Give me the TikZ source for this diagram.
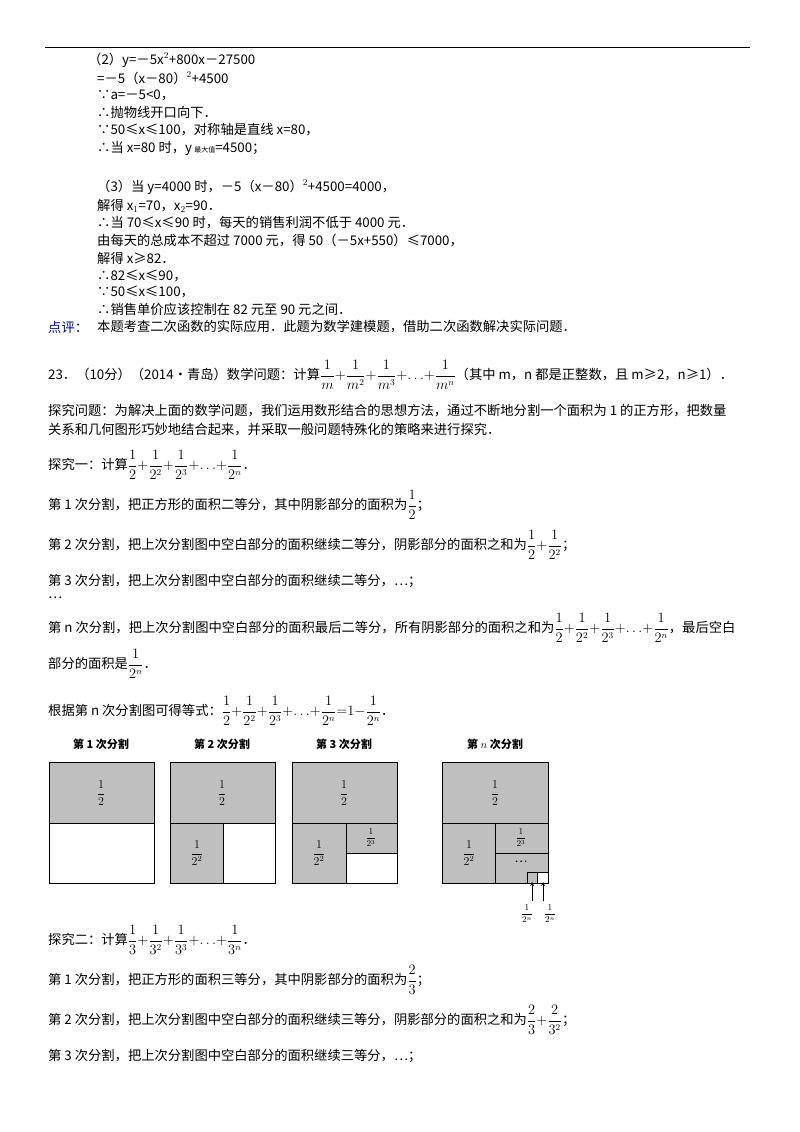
\documentclass[tikz,border=0pt]{standalone}
\usepackage{fontspec}
\setmainfont{Noto Sans CJK SC}
\usepackage{amsmath,amssymb}
\begin{document}
\begin{tikzpicture}[x=1pt,y=-1pt,
 t/.style={anchor=west,inner sep=0pt,font=\fontsize{13.3}{15}\selectfont},
 lab/.style={inner sep=0pt,font=\fontsize{11}{13}\selectfont\bfseries},
 sh/.style={fill=black!25,draw=black,line width=1pt},
 wh/.style={fill=white,draw=black,line width=1pt},
 fr/.style={inner sep=0pt,font=\fontsize{12}{13}\selectfont},
 sfr/.style={inner sep=0pt,font=\fontsize{9}{10}\selectfont}]
\useasboundingbox (0,0) rectangle (800,1132);
\draw[line width=0.6pt] (45,47) -- (750,47);
\node[t] (l1) at (88,60) {（2）y=－5x$^2$+800x－27500};
\node[t] (l2) at (97,78) {=－5（x－80）$^2$+4500};
\node[t] (l3) at (97,95) {∵a=－5<0，};
\node[t] (l4) at (97,112) {∴抛物线开口向下．};
\node[t] (l5) at (97,130) {∵50≤x≤100，对称轴是直线 x=80，};
\node[t] (l6) at (97,148) {∴当 x=80 时，y\,{\fontsize{7}{8}\selectfont 最大值}=4500；};
\node[t] (l7) at (97,187) {（3）当 y=4000 时，－5（x－80）$^2$+4500=4000，};
\node[t] (l8) at (97,206) {解得 x$_1$=70，x$_2$=90．};
\node[t] (l9) at (97,223) {∴当 70≤x≤90 时，每天的销售利润不低于 4000 元．};
\node[t] (l10) at (97,241) {由每天的总成本不超过 7000 元，得 50（－5x+550）≤7000，};
\node[t] (l11) at (97,258) {解得 x≥82．};
\node[t] (l12) at (97,276) {∴82≤x≤90，};
\node[t] (l13) at (97,292) {∵50≤x≤100，};
\node[t] (l14) at (97,309) {∴销售单价应该控制在 82 元至 90 元之间．};
\node[t,text=blue!70!black] (dp) at (48,327) {点评：};
\node[t] (l15) at (97,327) {本题考查二次函数的实际应用．此题为数学建模题，借助二次函数解决实际问题．};
\node[t] (q23) at (48,375) {23．（10分）（2014•青岛）数学问题：计算$\dfrac{1}{m}{+}\dfrac{1}{m^2}{+}\dfrac{1}{m^3}{+}{\ldots}{+}\dfrac{1}{m^n}$（其中 m，n 都是正整数，且 m≥2，n≥1）．};
\node[t] (p1) at (48,411) {探究问题：为解决上面的数学问题，我们运用数形结合的思想方法，通过不断地分割一个面积为 1 的正方形，把数量};
\node[t] (p2) at (48,430) {关系和几何图形巧妙地结合起来，并采取一般问题特殊化的策略来进行探究．};
\node[t] (e1) at (48,465) {探究一：计算$\dfrac{1}{2}{+}\dfrac{1}{2^2}{+}\dfrac{1}{2^3}{+}{\ldots}{+}\dfrac{1}{2^n}$．};
\node[t] (s1) at (48,505) {第 1 次分割，把正方形的面积二等分，其中阴影部分的面积为$\dfrac{1}{2}$；};
\node[t] (s2) at (48,545) {第 2 次分割，把上次分割图中空白部分的面积继续二等分，阴影部分的面积之和为$\dfrac{1}{2}{+}\dfrac{1}{2^2}$；};
\node[t] (s3) at (48,581) {第 3 次分割，把上次分割图中空白部分的面积继续二等分，…；};
\node[t] (s4) at (48,598) {…};
\node[t] (sn) at (48,628) {第 n 次分割，把上次分割图中空白部分的面积最后二等分，所有阴影部分的面积之和为$\dfrac{1}{2}{+}\dfrac{1}{2^2}{+}\dfrac{1}{2^3}{+}{\ldots}{+}\dfrac{1}{2^n}$，最后空白};
\node[t] (sn2) at (48,664) {部分的面积是$\dfrac{1}{2^n}$．};
\node[t] (gj) at (48,711) {根据第 n 次分割图可得等式：$\dfrac{1}{2}{+}\dfrac{1}{2^2}{+}\dfrac{1}{2^3}{+}{\ldots}{+}\dfrac{1}{2^n}{=}1{-}\dfrac{1}{2^n}$．};
% figure
\node[lab] (c1) at (101,744) {第 1 次分割};
\node[lab] (c2) at (222,744) {第 2 次分割};
\node[lab] (c3) at (344,744) {第 3 次分割};
\node[lab] (c4) at (495,744) {第 $n$ 次分割};
% box1
\draw[sh] (49,762) rectangle (154,823);
\draw[wh] (49,823) rectangle (154,883);
\node[fr] (b1a) at (101,793) {$\dfrac{1}{2}$};
% box2
\draw[sh] (170,762) rectangle (275,823);
\draw[sh] (170,823) rectangle (223,883);
\draw[wh] (223,823) rectangle (275,883);
\node[fr] (b2a) at (222,793) {$\dfrac{1}{2}$};
\node[fr] (b2b) at (197,853) {$\dfrac{1}{2^2}$};
% box3
\draw[sh] (292,762) rectangle (397,823);
\draw[sh] (292,823) rectangle (346,883);
\draw[sh] (346,823) rectangle (397,853);
\draw[wh] (346,853) rectangle (397,883);
\node[fr] (b3a) at (344,793) {$\dfrac{1}{2}$};
\node[fr] (b3b) at (319,853) {$\dfrac{1}{2^2}$};
\node[sfr] (b3c) at (371,838) {$\dfrac{1}{2^3}$};
\node[fr] (dots) at (477,822) {…};
% box4
\draw[sh] (442,762) rectangle (548,823);
\draw[sh] (442,823) rectangle (495,883);
\draw[sh] (495,823) rectangle (548,853);
\draw[sh] (495,853) rectangle (548,883);
\draw[sh] (527,872) rectangle (537,883);
\draw[wh] (537,872) rectangle (548,883);
\node[fr] (b4a) at (495,793) {$\dfrac{1}{2}$};
\node[fr] (b4b) at (469,853) {$\dfrac{1}{2^2}$};
\node[sfr] (b4c) at (521,838) {$\dfrac{1}{2^3}$};
\node[fr] (b4d) at (521,862) {…};
\coordinate (a1s) at (532,901); \coordinate (a1e) at (532,882);
\coordinate (a2s) at (543,901); \coordinate (a2e) at (543,882);
\draw[-stealth,line width=0.8pt] (a1s) -- (a1e);
\draw[-stealth,line width=0.8pt] (a2s) -- (a2e);
\node[sfr] (n1) at (527,914) {$\dfrac{1}{2^n}$};
\node[sfr] (n2) at (550,914) {$\dfrac{1}{2^n}$};
% part two
\node[t] (e2) at (48,940) {探究二：计算$\dfrac{1}{3}{+}\dfrac{1}{3^2}{+}\dfrac{1}{3^3}{+}{\ldots}{+}\dfrac{1}{3^n}$．};
\node[t] (t1) at (48,980) {第 1 次分割，把正方形的面积三等分，其中阴影部分的面积为$\dfrac{2}{3}$；};
\node[t] (t2) at (48,1020) {第 2 次分割，把上次分割图中空白部分的面积继续三等分，阴影部分的面积之和为$\dfrac{2}{3}{+}\dfrac{2}{3^2}$；};
\node[t] (t3) at (48,1056) {第 3 次分割，把上次分割图中空白部分的面积继续三等分，…；};
\end{tikzpicture}
\end{document}
